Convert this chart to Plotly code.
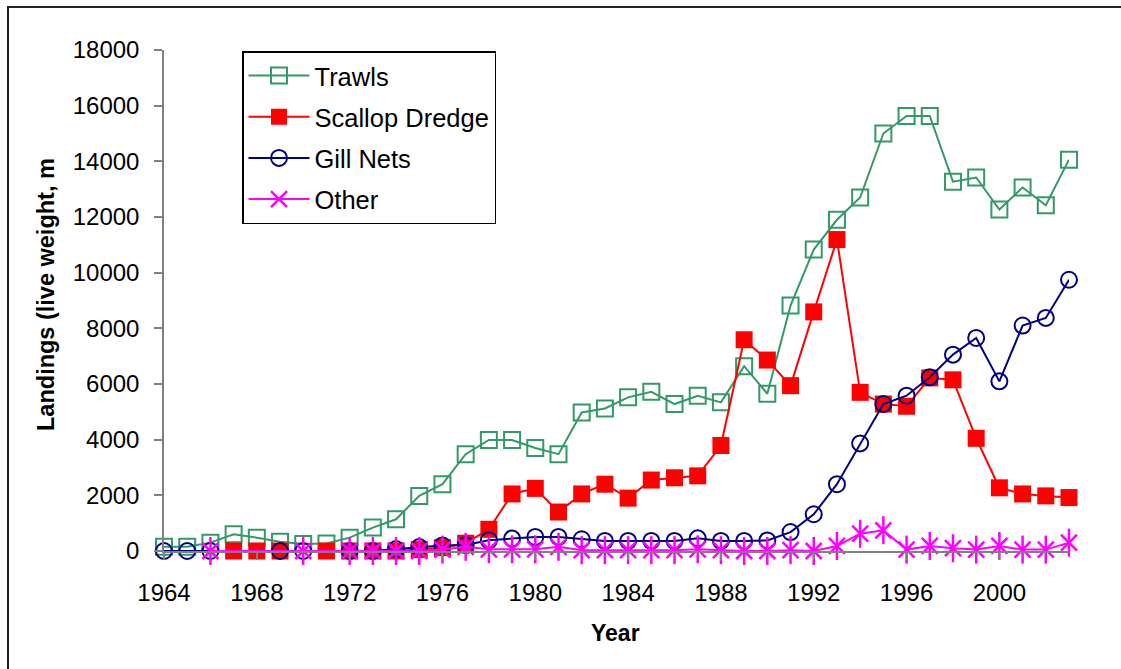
import plotly.graph_objects as go

years = list(range(1964, 2004))

trawls = [150, 150, 300, 600, 480, 335, 250, 270, 480, 840,
          1140, 1980, 2400, 3480, 3990, 3990, 3700, 3480, 4980, 5120,
          5520, 5720, 5280, 5580, 5340, 6640, 5650, 8820, 10830, 11900,
          12700, 15000, 15630, 15630, 13270, 13420, 12270, 13060, 12420, 14060]

scallop = [None, None, None, 0, 0, 0, None, 0, 0, 0,
           0, 50, 120, 280, 780, 2050, 2250, 1400, 2050, 2400,
           1900, 2550, 2630, 2700, 3790, 7590, 6860, 5940, 8590, 11190,
           5700, 5280, 5200, 6220, 6150, 4050, 2270, 2050, 1980, 1920]

gill = [0, 0, 0, None, None, 0, 0, None, 0, 0,
        70, 140, 200, 215, 385, 445, 505, 505, 420, 360,
        360, 360, 360, 455, 360, 360, 380, 680, 1320, 2400,
        3865, 5280, 5580, 6240, 7055, 7655, 6095, 8100, 8375, 9745]

other = [None, None, 0, None, None, None, 0, None, 0, 0,
         0, 0, 50, 150, 60, 60, 60, 150, 30, 30,
         30, 30, 30, 60, 30, 0, 0, 30, 0, 180,
         620, 745, 50, 180, 100, 50, 180, 50, 50, 300]

series_names = ["Trawls", "Scallop Dredge", "Gill Nets", "Other"]
x_tick_vals = list(range(1964, 2001, 4))
y_tick_vals = list(range(0, 18001, 2000))

GREEN = "#339966"
RED = "#FF0000"
NAVY = "#000080"
MAGENTA = "#FF00FF"
AXIS = "#808080"
FONT = "Liberation Sans, Arial, sans-serif"

fig = go.Figure()

fig.add_trace(go.Scatter(
    x=years, y=trawls, name=series_names[0], mode="lines+markers",
    legendgroup="g1", connectgaps=True, cliponaxis=False,
    line=dict(color=GREEN, width=2),
    marker=dict(symbol="square-open", size=16, color=GREEN, line=dict(color=GREEN, width=2)),
))
fig.add_trace(go.Scatter(
    x=years, y=scallop, name=series_names[1], mode="lines+markers",
    legendgroup="g2", connectgaps=True, cliponaxis=False,
    line=dict(color=RED, width=2),
    marker=dict(symbol="square", size=17, color=RED, line=dict(color=RED, width=0)),
))
fig.add_trace(go.Scatter(
    x=years, y=gill, name=series_names[2], mode="lines+markers",
    legendgroup="g3", connectgaps=True, cliponaxis=False,
    line=dict(color=NAVY, width=2),
    marker=dict(symbol="circle-open", size=16, color=NAVY, line=dict(color=NAVY, width=2)),
))
fig.add_trace(go.Scatter(
    x=years, y=other, name=series_names[3], mode="lines+markers",
    legendgroup="g4", connectgaps=True, cliponaxis=False,
    line=dict(color=MAGENTA, width=2),
    marker=dict(symbol="x-thin-open", size=16, color=MAGENTA, line=dict(color=MAGENTA, width=2.5)),
))
fig.add_trace(go.Scatter(
    x=years, y=other, name=series_names[3], mode="markers",
    legendgroup="g4", showlegend=False, cliponaxis=False, hoverinfo="skip",
    marker=dict(symbol="line-ns-open", size=20, color=MAGENTA, line=dict(color=MAGENTA, width=2.5)),
))

L, R, T, B = 164, 52, 50, 118
W, H = 1121, 669
pw = W - L - R
ph = H - T - B


def px_x(p):
    return (p - L) / pw


def px_y(p):
    return (H - B - p) / ph


fig.update_layout(
    width=W, height=H,
    margin=dict(l=L, r=R, t=T, b=B, pad=0),
    paper_bgcolor="white", plot_bgcolor="white",
    font=dict(family=FONT, size=24, color="black"),
    showlegend=True,
    legend=dict(
        x=px_x(242), y=px_y(51), xanchor="left", yanchor="top",
        bordercolor="black", borderwidth=1.5, bgcolor="white",
        font=dict(family=FONT, size=25.5, color="black"),
        traceorder="grouped", tracegroupgap=5, itemwidth=61,
    ),
    xaxis=dict(
        range=[1964, 2003], tickvals=x_tick_vals, ticktext=[str(v) for v in x_tick_vals],
        showgrid=False, zeroline=False, showline=True, linecolor=AXIS, linewidth=1.5,
        ticks="outside", ticklen=7, tickcolor=AXIS, tickwidth=1.5,
        tickfont=dict(family=FONT, size=24, color="black"), ticklabelstandoff=12,
    ),
    yaxis=dict(
        range=[0, 18000], tickvals=y_tick_vals, ticktext=[str(v) for v in y_tick_vals],
        showgrid=False, zeroline=False, showline=True, linecolor=AXIS, linewidth=1.5,
        ticks="outside", ticklen=8, tickcolor=AXIS, tickwidth=1.5,
        tickfont=dict(family=FONT, size=24, color="black"), ticklabelstandoff=10,
    ),
    annotations=[
        dict(text="<b>Year</b>", xref="paper", yref="paper", x=px_x(615), y=px_y(633),
             xanchor="center", yanchor="middle", showarrow=False,
             font=dict(family=FONT, size=23, color="black")),
        dict(text="<b>Landings (live weight, m</b>", xref="paper", yref="paper",
             x=px_x(46), y=px_y(294), xanchor="center", yanchor="middle",
             textangle=-90, showarrow=False,
             font=dict(family=FONT, size=23.5, color="black")),
    ],
    shapes=[
        dict(type="rect", xref="paper", yref="paper",
             x0=px_x(8), x1=px_x(1135), y0=px_y(685), y1=px_y(7),
             line=dict(color="#222222", width=2), fillcolor="rgba(0,0,0,0)", layer="below"),
    ],
)

fig.write_html(
    "out.html",
    config={"displayModeBar": False},
    post_script="document.body.style.margin='0';document.body.style.overflow='hidden';",
)
